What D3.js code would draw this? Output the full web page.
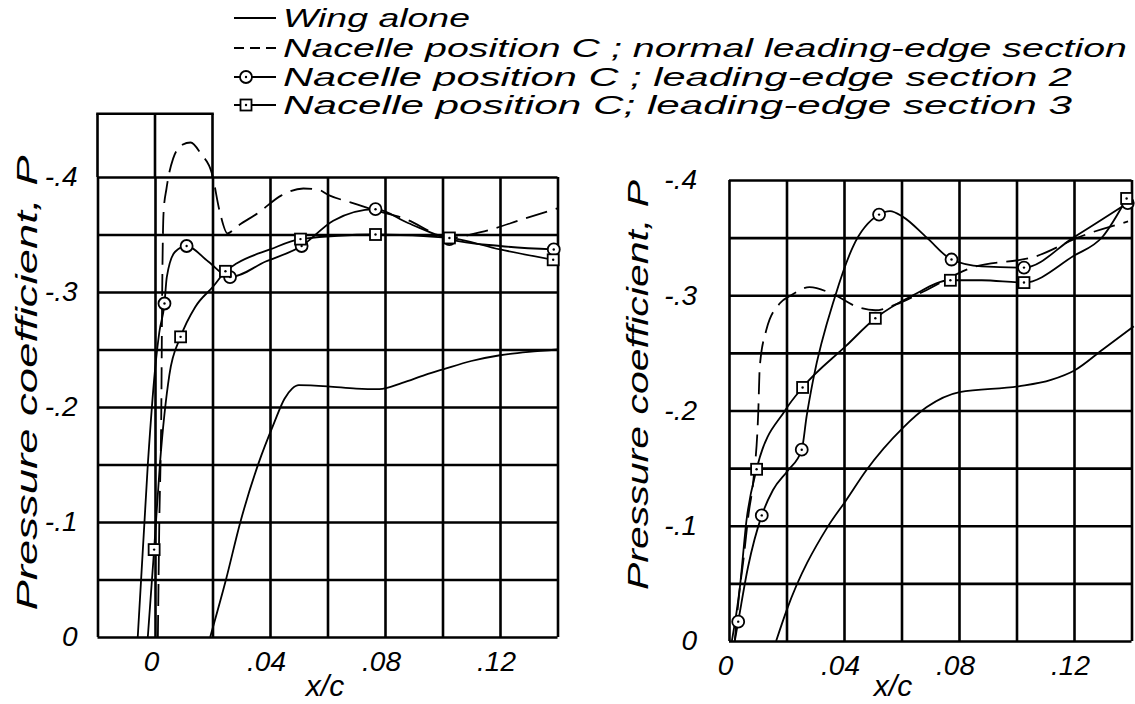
<!DOCTYPE html>
<html>
<head>
<meta charset="utf-8">
<script src="https://cdn.jsdelivr.net/npm/d3@7"></script>
<style>
  body { margin: 0; background: #fff; }
  text { font-family: "Liberation Sans", "DejaVu Sans", sans-serif; font-style: italic; fill: #000; }
</style>
</head>
<body>
<svg id="chart" width="1135" height="704"></svg>
<script>
// tick labels
const xTicks = [0, 0.04, 0.08, 0.12];
const xTickLabels = ["0", ".04", ".08", ".12"];
const yTicks = [0, -0.1, -0.2, -0.3, -0.4];
const yTickLabels = ["0", "-.1", "-.2", "-.3", "-.4"];
const legendLabels = [
    "Wing alone",
    "Nacelle position C ; normal leading-edge section",
    "Nacelle position C ; leading-edge section  2",
    "Nacelle position C; leading-edge section  3"
];

// left panel  [x/c, P]
const leftWing = [[0.0192,0],[0.0247,-0.05],[0.0297,-0.10],[0.036,-0.151],[0.0414,-0.186],[0.045,-0.207],
    [0.0477,-0.216],[0.05,-0.219],[0.06,-0.218],[0.07,-0.216],[0.078,-0.2155],[0.086,-0.221],
    [0.094,-0.228],[0.1005,-0.233],[0.11,-0.24],[0.12,-0.245],[0.13,-0.248],[0.14,-0.25]];
const leftNormal = [[0.001,0],[0.0015,-0.1],[0.0022,-0.2],[0.0025,-0.3],[0.003,-0.37],[0.004,-0.39],
    [0.0063,-0.416],[0.0095,-0.428],[0.0124,-0.43],[0.016,-0.42],[0.0198,-0.403],[0.0226,-0.369],
    [0.0252,-0.351],[0.0285,-0.357],[0.036,-0.369],[0.044,-0.384],[0.0516,-0.39],[0.0568,-0.389],
    [0.0606,-0.384],[0.068,-0.378],[0.0767,-0.371],[0.0876,-0.363],[0.098,-0.350],[0.1017,-0.347],
    [0.1133,-0.352],[0.1288,-0.364],[0.1404,-0.373]];
const leftSec2 = [[-0.006,0],[-0.0025,-0.15],[0,-0.232],[0.0015,-0.265],[0.0033,-0.29],[0.0041,-0.313],
    [0.007,-0.335],[0.011,-0.34],[0.0185,-0.3265],[0.0261,-0.313],[0.0385,-0.3265],[0.051,-0.34],
    [0.062,-0.362],[0.0767,-0.372],[0.088,-0.36],[0.1024,-0.346],[0.12,-0.34],[0.1387,-0.337]];
const leftSec2Pts = [[0.0033,-0.29],[0.011,-0.34],[0.0261,-0.313],[0.051,-0.34],[0.0767,-0.372],
    [0.1024,-0.346],[0.1387,-0.337]];
const leftSec3 = [[-0.0025,0],[-0.0003,-0.076],[0.0017,-0.15],[0.005,-0.228],[0.0089,-0.261],
    [0.014,-0.287],[0.0203,-0.305],[0.0245,-0.318],[0.0285,-0.325],[0.04,-0.337],[0.0506,-0.346],
    [0.0767,-0.350],[0.1024,-0.347],[0.12,-0.337],[0.1385,-0.328]];
const leftSec3Pts = [[-0.0003,-0.076],[0.0089,-0.261],[0.0245,-0.318],[0.0506,-0.346],[0.0767,-0.350],
    [0.1024,-0.347],[0.1385,-0.328]];

// right panel
const rightWing = [[0.0164,0],[0.0201,-0.027],[0.0343,-0.099],[0.0407,-0.122],[0.0477,-0.148],
    [0.0605,-0.185],[0.0688,-0.203],[0.0802,-0.216],[0.1007,-0.221],[0.112,-0.2266],[0.1203,-0.235],
    [0.13,-0.253],[0.1408,-0.273]];
const rightNormal = [[0.002,0],[0.0035,-0.04],[0.005,-0.07],[0.0068,-0.11],[0.0085,-0.14],[0.0102,-0.2],
    [0.0107,-0.238],[0.013,-0.27],[0.0177,-0.293],[0.0216,-0.300],[0.028,-0.307],[0.0369,-0.300],
    [0.0445,-0.290],[0.0509,-0.287],[0.058,-0.292],[0.0675,-0.303],[0.084,-0.3235],[0.107,-0.334],
    [0.1223,-0.351],[0.1388,-0.364]];
const rightSec2 = [[0.002,0],[0.0032,-0.0168],[0.0066,-0.064],[0.0114,-0.109],[0.0153,-0.131],
    [0.0205,-0.148],[0.0253,-0.166],[0.027,-0.195],[0.0293,-0.227],[0.0369,-0.299],[0.0431,-0.342],
    [0.0522,-0.370],[0.056,-0.373],[0.0605,-0.368],[0.0688,-0.35],[0.0774,-0.331],[0.0879,-0.325],
    [0.1026,-0.324],[0.1198,-0.35],[0.1387,-0.38]];
const rightSec2Pts = [[0.0032,-0.0168],[0.0114,-0.109],[0.0253,-0.166],[0.0522,-0.370],[0.0774,-0.331],
    [0.1026,-0.324],[0.1387,-0.380]];
const rightSec3 = [[0.001,0],[0.0038,-0.047],[0.0061,-0.105],[0.0096,-0.149],[0.0195,-0.200],
    [0.0256,-0.220],[0.0407,-0.256],[0.0509,-0.280],[0.064,-0.300],[0.077,-0.313],[0.0879,-0.313],
    [0.1026,-0.311],[0.1198,-0.334],[0.13,-0.351],[0.1383,-0.384]];
const rightSec3Pts = [[0.0096,-0.149],[0.0256,-0.220],[0.0509,-0.280],[0.077,-0.313],[0.1026,-0.311],
    [0.1383,-0.384]];

const svg = d3.select("#chart");
const GRID_W = 2.6;
const LINE_W = 1.8;

function drawPanel(opt) {
    const x = d3.scaleLinear().domain(opt.xDomain).range(opt.xRange);
    const y = d3.scaleLinear().domain([0, -0.4]).range(opt.yRange);
    const h = y(0) - y(-0.4);
    const g = svg.append("g");

    // vertical grid lines (every .02)
    const gx = d3.range(opt.xDomain[0], opt.xDomain[1] + 0.001, 0.02);
    g.append("g")
        .attr("transform", `translate(0,${y(0)})`)
        .call(d3.axisBottom(x).tickValues(gx).tickSize(-h).tickFormat(""))
        .call(s => s.select(".domain").remove())
        .selectAll("line").attr("stroke", "#000").attr("stroke-width", GRID_W);
    // horizontal grid lines (every .05)
    const gy = d3.range(0, -0.401, -0.05);
    g.append("g")
        .attr("transform", `translate(${x(opt.xDomain[0])},0)`)
        .call(d3.axisLeft(y).tickValues(gy).tickSize(-(x(opt.xDomain[1]) - x(opt.xDomain[0]))).tickFormat(""))
        .call(s => s.select(".domain").remove())
        .selectAll("line").attr("stroke", "#000").attr("stroke-width", GRID_W);

    // raised box over the leading edge (left panel only)
    if (opt.boxCols) {
        opt.boxCols.forEach(c => g.append("line")
            .attr("x1", x(c)).attr("x2", x(c))
            .attr("y1", y(-0.4)).attr("y2", y(opt.boxTop))
            .attr("stroke", "#000").attr("stroke-width", GRID_W));
        g.append("line")
            .attr("x1", x(opt.boxCols[0]) - 1.3).attr("x2", x(opt.boxCols[opt.boxCols.length - 1]) + 1.3)
            .attr("y1", y(opt.boxTop)).attr("y2", y(opt.boxTop))
            .attr("stroke", "#000").attr("stroke-width", GRID_W);
    }

    // tick labels
    g.append("g")
        .attr("transform", `translate(0,${y(0)})`)
        .call(d3.axisBottom(x).tickValues(xTicks).tickFormat((d, i) => xTickLabels[i]).tickSize(0).tickPadding(14))
        .call(s => s.select(".domain").remove())
        .selectAll("text").attr("font-size", 28).attr("font-family", null).attr("dx", -4);
    g.append("g")
        .attr("transform", `translate(${x(opt.xDomain[0])},0)`)
        .call(d3.axisLeft(y).tickValues(yTicks).tickFormat((d, i) => yTickLabels[i]).tickSize(0).tickPadding(opt.yPad))
        .call(s => s.select(".domain").remove())
        .selectAll("text").attr("font-size", 28).attr("font-family", null);

    // axis titles
    g.append("text")
        .attr("transform", `translate(${opt.titleX},${opt.titleY}) rotate(-90)`)
        .attr("text-anchor", "middle").attr("font-size", 30)
        .attr("textLength", opt.titleLen).attr("lengthAdjust", "spacingAndGlyphs")
        .text("Pressure coefficient, P");
    g.append("text")
        .attr("x", opt.xcX).attr("y", 696)
        .attr("text-anchor", "middle").attr("font-size", 30)
        .text("x/c");

    const line = d3.line().x(d => x(d[0])).y(d => y(d[1])).curve(d3.curveMonotoneX);
    const curve = (data, dash) => g.append("path")
        .attr("d", line(data)).attr("fill", "none")
        .attr("stroke", "#000").attr("stroke-width", LINE_W)
        .attr("stroke-dasharray", dash || null);

    curve(opt.wing);
    curve(opt.normal, "22,9");
    curve(opt.sec2);
    curve(opt.sec3);

    drawCircles(g, opt.sec2Pts.map(d => [x(d[0]), y(d[1])]));
    drawSquares(g, opt.sec3Pts.map(d => [x(d[0]), y(d[1])]));
}

function drawCircles(g, pts) {
    const m = g.append("g").selectAll("g").data(pts).join("g")
        .attr("transform", d => `translate(${d[0]},${d[1]})`);
    m.append("circle").attr("r", 6).attr("fill", "#fff").attr("stroke", "#000").attr("stroke-width", 1.8);
    m.append("circle").attr("r", 1.2).attr("fill", "#000");
}

function drawSquares(g, pts) {
    const m = g.append("g").selectAll("g").data(pts).join("g")
        .attr("transform", d => `translate(${d[0]},${d[1]})`);
    m.append("rect").attr("x", -5.5).attr("y", -5.5).attr("width", 11).attr("height", 11)
        .attr("fill", "#fff").attr("stroke", "#000").attr("stroke-width", 1.8);
    m.append("circle").attr("r", 1.2).attr("fill", "#000");
}

drawPanel({
    xDomain: [-0.02, 0.14], xRange: [97.5, 557.5], yRange: [637, 177],
    boxCols: [-0.02, 0, 0.02], boxTop: -0.455, yPad: 20,
    titleX: 37, titleY: 383, titleLen: 455, xcX: 325,
    wing: leftWing, normal: leftNormal, sec2: leftSec2, sec2Pts: leftSec2Pts,
    sec3: leftSec3, sec3Pts: leftSec3Pts
});
drawPanel({
    xDomain: [0, 0.14], xRange: [729, 1131.5], yRange: [641, 180],
    yPad: 32,
    titleX: 648, titleY: 385, titleLen: 410, xcX: 893,
    wing: rightWing, normal: rightNormal, sec2: rightSec2, sec2Pts: rightSec2Pts,
    sec3: rightSec3, sec3Pts: rightSec3Pts
});

// legend
const legendRows = [18, 48, 77, 105];
const legendLen = [187, 844, 789, 789];
const leg = svg.append("g");
legendLabels.forEach((label, i) => {
    const cy = legendRows[i];
    leg.append("line")
        .attr("x1", 234).attr("x2", 276).attr("y1", cy).attr("y2", cy)
        .attr("stroke", "#000").attr("stroke-width", LINE_W)
        .attr("stroke-dasharray", i === 1 ? "10,6" : null);
    leg.append("text")
        .attr("x", 283).attr("y", cy + 9)
        .attr("font-size", 25)
        .attr("textLength", legendLen[i]).attr("lengthAdjust", "spacingAndGlyphs")
        .text(label);
});
drawCircles(leg, [[246, legendRows[2]]]);
drawSquares(leg, [[246, legendRows[3]]]);
</script>
</body>
</html>
